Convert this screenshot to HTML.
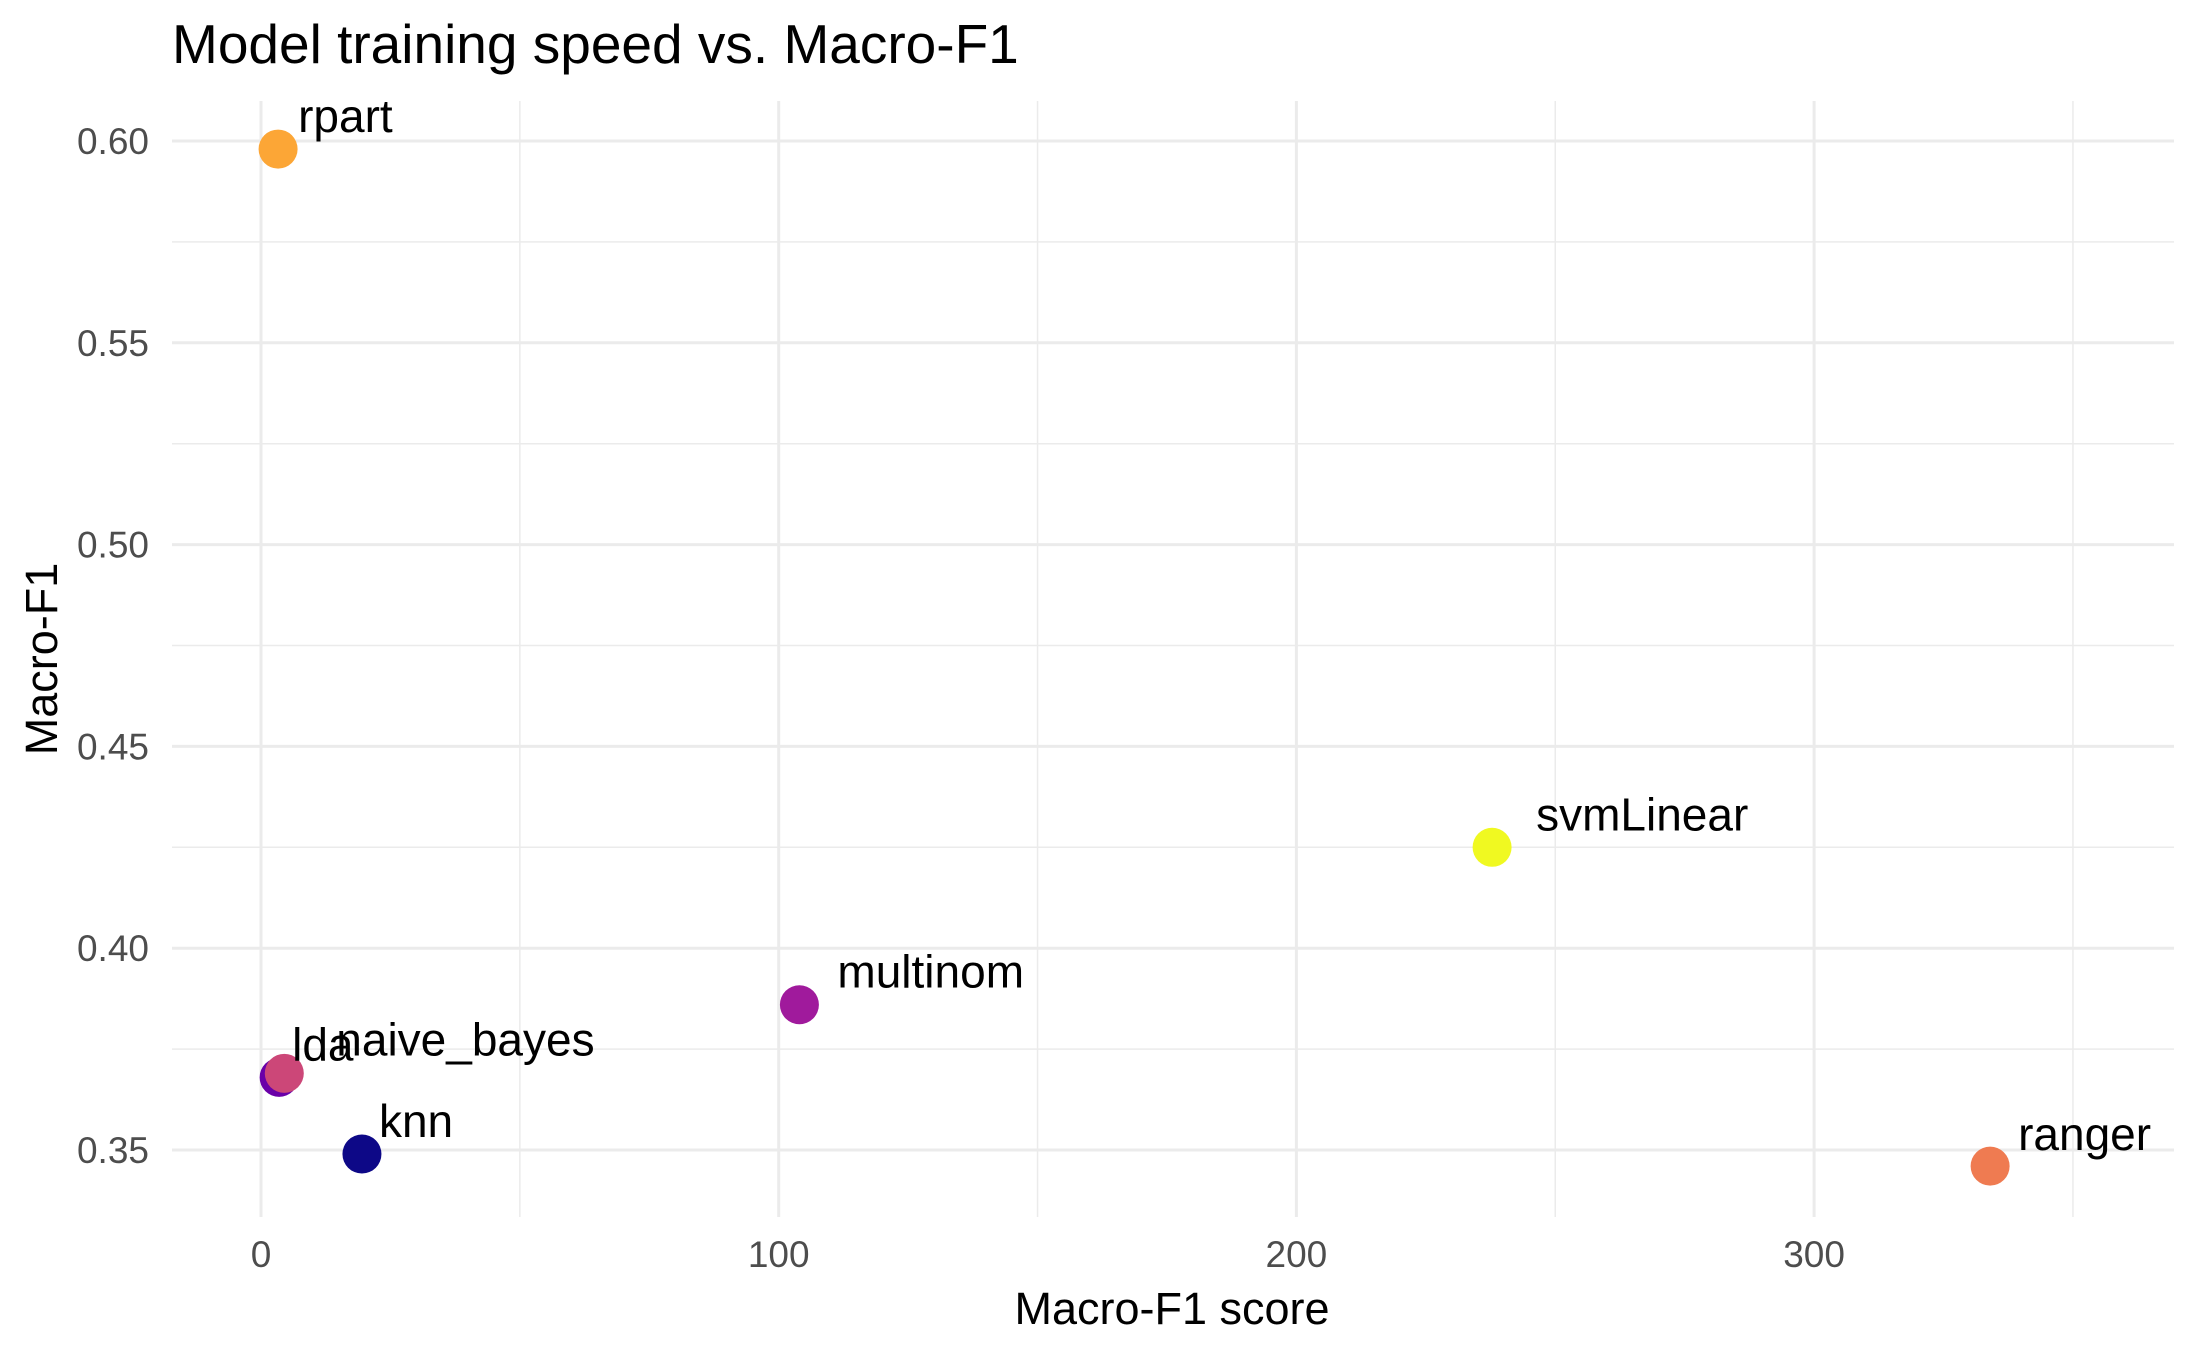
<!DOCTYPE html>
<html><head><meta charset="utf-8"><style>
html,body{margin:0;padding:0;background:#fff}
svg{display:block;font-family:"Liberation Sans",Arial,sans-serif}
</style></head><body>
<svg id="chart" width="2187" height="1350" viewBox="0 0 2187 1350">
<rect width="2187" height="1350" fill="#fff"/>
<g id="grid"></g>
<g id="axes"></g>
<g id="points"></g>
<g id="labels"></g>
<text x="172" y="63" font-size="55" fill="#000">Model training speed vs. Macro-F1</text>
<text x="1172" y="1324" font-size="45" text-anchor="middle" fill="#000">Macro-F1 score</text>
<text transform="translate(57,659) rotate(-90)" font-size="45" text-anchor="middle" fill="#000">Macro-F1</text>
</svg>
<script>
const models = ["rpart","lda","naive_bayes","knn","multinom","svmLinear","ranger"];
const speed = [3.3, 3.5, 4.5, 19.5, 104, 237.8, 334];
const macroF1 = [0.598, 0.368, 0.369, 0.349, 0.386, 0.425, 0.346];
const colors = ["#fca636","#6a00a8","#cc4778","#0d0887","#a01a9c","#f0f921","#ef7b51"];
const labelDx = [20, 13, 52, 17, 38, 44, 28];
const labelDy = [-17, -17, -18, -17, -17, -17, -16];
const xTicks = [0,100,200,300];
const xMinor = [50,150,250,350];
const yTicks = [0.35,0.40,0.45,0.50,0.55,0.60];
const yTickLabels = ["0.35","0.40","0.45","0.50","0.55","0.60"];
const yMinor = [0.375,0.425,0.475,0.525,0.575];

const NS="http://www.w3.org/2000/svg";
const L=172,R=2174,T=101,B=1217;
function xs(v){return 261+v*5.177;}
function ys(v){return 141+(0.60-v)*4036;}
function mk(tag,attrs,parent){const e=document.createElementNS(NS,tag);for(const k in attrs)e.setAttribute(k,attrs[k]);parent.appendChild(e);return e;}
const grid=document.getElementById('grid'),axes=document.getElementById('axes'),pts=document.getElementById('points'),lbl=document.getElementById('labels');
yMinor.forEach(v=>{const e=mk('line',{x1:L,x2:R,y1:ys(v),y2:ys(v),stroke:'#ebebeb','stroke-width':1.5},grid);

});
xMinor.forEach(v=>{const e=mk('line',{x1:xs(v),x2:xs(v),y1:T,y2:B,stroke:'#ebebeb','stroke-width':1.5},grid);

});
yTicks.forEach((v,i)=>{const e=mk('line',{x1:L,x2:R,y1:ys(v),y2:ys(v),stroke:'#ebebeb','stroke-width':3},grid);


const t=mk('text',{x:149,y:ys(v)+13,'font-size':37,'text-anchor':'end',fill:'#4d4d4d'},axes);t.textContent=yTickLabels[i];

});
xTicks.forEach(v=>{const e=mk('line',{x1:xs(v),x2:xs(v),y1:T,y2:B,stroke:'#ebebeb','stroke-width':3},grid);


const t=mk('text',{x:xs(v),y:1267,'font-size':37,'text-anchor':'middle',fill:'#4d4d4d'},axes);t.textContent=String(v);

});
models.forEach((m,i)=>{const c=mk('circle',{cx:xs(speed[i]),cy:ys(macroF1[i]),r:19.5,fill:colors[i]},pts);


const t=mk('text',{x:xs(speed[i])+labelDx[i],y:ys(macroF1[i])+labelDy[i],'font-size':46,fill:'#000'},lbl);t.textContent=m;

});
</script>
</body></html>
